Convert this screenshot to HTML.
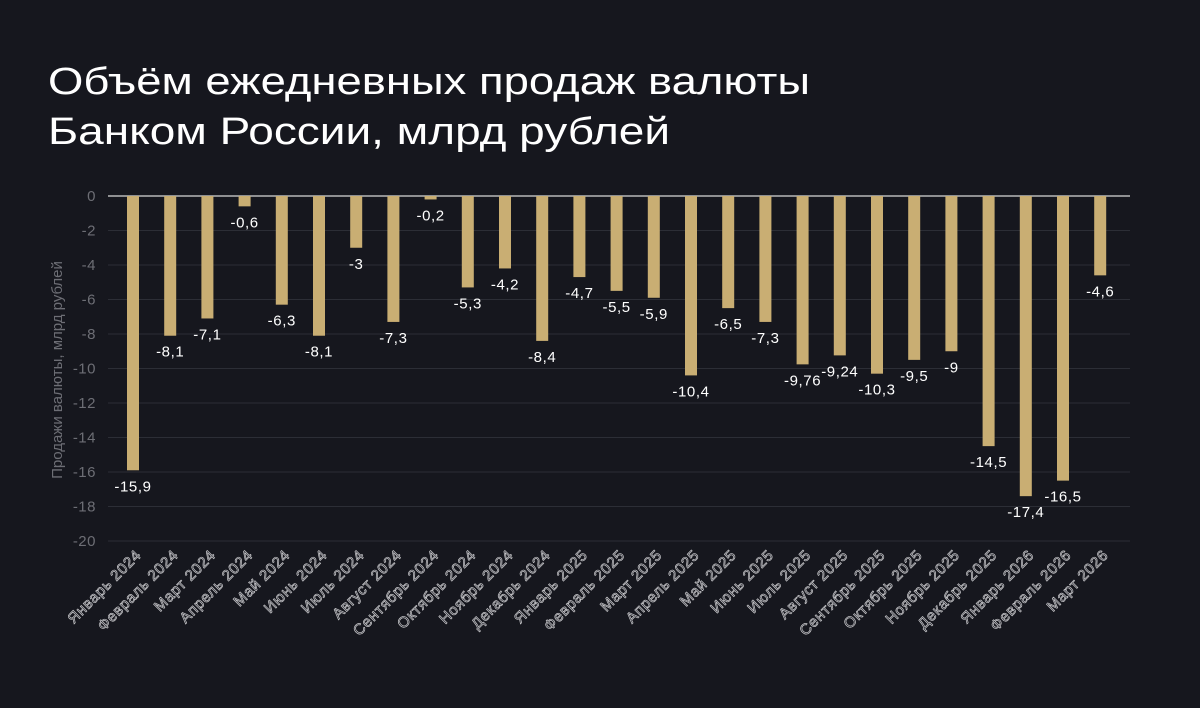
<!DOCTYPE html>
<html><head><meta charset="utf-8"><style>
body{margin:0;background:#16171e;}
svg{display:block;font-family:"Liberation Sans","DejaVu Sans",sans-serif;}
</style></head><body>
<svg id="c" width="1200" height="708" viewBox="0 0 1200 708">
<rect width="1200" height="708" fill="#16171e"/>
<text x="48" y="94" fill="#fff" font-size="38" textLength="762" lengthAdjust="spacingAndGlyphs">Объём ежедневных продаж валюты</text>
<text x="48" y="144" fill="#fff" font-size="38" textLength="622" lengthAdjust="spacingAndGlyphs">Банком России, млрд рублей</text>
<text transform="translate(62,370) rotate(-90)" text-anchor="middle" fill="#6d6e75" font-size="15">Продажи валюты, млрд рублей</text>
<g id="grid"></g><g id="bars"></g><g id="labels"></g>
</svg>
<script>
const categories=["Январь 2024","Февраль 2024","Март 2024","Апрель 2024","Май 2024","Июнь 2024","Июль 2024","Август 2024","Сентябрь 2024","Октябрь 2024","Ноябрь 2024","Декабрь 2024","Январь 2025","Февраль 2025","Март 2025","Апрель 2025","Май 2025","Июнь 2025","Июль 2025","Август 2025","Сентябрь 2025","Октябрь 2025","Ноябрь 2025","Декабрь 2025","Январь 2026","Февраль 2026","Март 2026"];
const values=[-15.9,-8.1,-7.1,-0.6,-6.3,-8.1,-3,-7.3,-0.2,-5.3,-4.2,-8.4,-4.7,-5.5,-5.9,-10.4,-6.5,-7.3,-9.76,-9.24,-10.3,-9.5,-9,-14.5,-17.4,-16.5,-4.6];
const valueLabels=["-15,9","-8,1","-7,1","-0,6","-6,3","-8,1","-3","-7,3","-0,2","-5,3","-4,2","-8,4","-4,7","-5,5","-5,9","-10,4","-6,5","-7,3","-9,76","-9,24","-10,3","-9,5","-9","-14,5","-17,4","-16,5","-4,6"];
const yTicks=[0,-2,-4,-6,-8,-10,-12,-14,-16,-18,-20];
const NS="http://www.w3.org/2000/svg";
const y0=196,unit=17.25,x0=133,step=37.2,bw=12;
const yS=v=>y0-v*unit, xS=i=>x0+i*step;
function mk(t,a,p){const e=document.createElementNS(NS,t);for(const k in a)e.setAttribute(k,a[k]);p.appendChild(e);return e;}
const grid=document.getElementById('grid'),bars=document.getElementById('bars'),labels=document.getElementById('labels');
yTicks.forEach(t=>{
 const l=mk('line',{x1:108,x2:1130,y1:yS(t),y2:yS(t),stroke:t===0?'#d8d8d8':'#2c2e36','stroke-width':t===0?1.2:1},grid);
 
 
 const tx=mk('text',{x:96,y:yS(t)+5,'text-anchor':'end',fill:'#6d6e75','font-size':15,'letter-spacing':0.5},grid);
 tx.textContent=t;
 
 
});
values.forEach((v,i)=>{
 const x=xS(i);
 const r=mk('rect',{x:x-bw/2,y:y0,width:bw,height:Math.max(0,yS(v)-y0),fill:'#c9ae73'},bars);
 
 
 const t=mk('text',{x:x,y:yS(v)+21,'text-anchor':'middle',fill:'#fff','font-size':15,'letter-spacing':0.6},labels);
 t.textContent=valueLabels[i];
 
 
 const c=mk('text',{transform:`translate(${x+9},${556}) rotate(-45)`,'text-anchor':'end',fill:'#1c1d25',stroke:'#c9c9cc','stroke-width':0.7,'font-size':15,'letter-spacing':0.7},labels);
 c.textContent=categories[i];
 
 
});
</script>
</body></html>
